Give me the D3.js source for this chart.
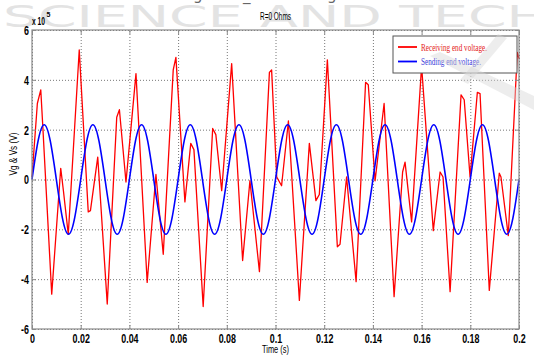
<!DOCTYPE html>
<html>
<head>
<meta charset="utf-8">
<script src="https://cdn.jsdelivr.net/npm/d3@7"></script>
<style>
  body { margin: 0; background: #fff; }
  svg { display: block; }
</style>
</head>
<body>
<script>
// axis ticks
const xTicks = [0, 0.02, 0.04, 0.06, 0.08, 0.1, 0.12, 0.14, 0.16, 0.18, 0.2];
const xTickLabels = ['0', '0.02', '0.04', '0.06', '0.08', '0.1', '0.12', '0.14', '0.16', '0.18', '0.2'];
const yTicks = [-6, -4, -2, 0, 2, 4, 6];
const yTickLabels = ['-6', '-4', '-2', '0', '2', '4', '6'];

// receiving end voltage (x 10^5 V)
const recvTime = [
  0, 0.0022, 0.0036, 0.0044, 0.0081, 0.0118, 0.0129, 0.0149, 0.0194, 0.0231,
  0.0240, 0.0270, 0.0309, 0.0348, 0.0359, 0.0386, 0.0427, 0.0473, 0.0509, 0.0539,
  0.0580, 0.0591, 0.0628, 0.0652, 0.0665, 0.0703, 0.0742, 0.0755, 0.0779, 0.0820,
  0.0865, 0.0895, 0.0934, 0.0975, 0.0984, 0.1005, 0.1025, 0.1053, 0.1098, 0.1139,
  0.1166, 0.1180, 0.1213, 0.1254, 0.1265, 0.1292, 0.1331, 0.1370, 0.1381, 0.1409,
  0.1446, 0.1487, 0.1522, 0.1532, 0.1559, 0.1600, 0.1648, 0.1676, 0.1688, 0.1717,
  0.1762, 0.1775, 0.1799, 0.1829, 0.1840, 0.1878, 0.1919, 0.1926, 0.1956, 0.1993, 0.2000
];
const recvVolt = [
  0.1, 3.05, 3.6, 2.2, -4.6, 0.45, -0.45, -2.2, 5.2, -1.3,
  -1.25, 0.9, -5.0, 2.5, 2.8, -0.1, 4.25, -4.13, 0.2, -3.0,
  4.4, 4.9, -0.9, 1.45, 1.2, -5.1, 2.05, 1.8, -0.45, 4.65,
  -3.25, -0.05, -3.7, 4.3, 4.4, 0.1, -0.25, 2.35, -4.85, 1.45,
  -0.85, -0.6, 4.8, -2.7, -2.6, 0.1, -4.1, 3.9, 3.8, -0.05,
  3.05, -4.7, 0.3, 0.7, -1.7, 4.55, -2.05, 0.3, 0.1, -4.5,
  3.4, 3.2, 0.1, 3.5, 3.45, -4.45, 0.25, 0.1, -2.25, 5.1, 4.85
];

// sending end voltage (x 10^5 V), sampled every 2.5 ms
const sendStep = 0.0025;
const sendVolt = [
  0, 1.55, 2.2, 1.55, 0, -1.55, -2.2, -1.55,
  0, 1.55, 2.2, 1.55, 0, -1.55, -2.2, -1.55,
  0, 1.55, 2.2, 1.55, 0, -1.55, -2.2, -1.55,
  0, 1.55, 2.2, 1.55, 0, -1.55, -2.2, -1.55,
  0, 1.55, 2.2, 1.55, 0, -1.55, -2.2, -1.55,
  0, 1.55, 2.2, 1.55, 0, -1.55, -2.2, -1.55,
  0, 1.55, 2.2, 1.55, 0, -1.55, -2.2, -1.55,
  0, 1.55, 2.2, 1.55, 0, -1.55, -2.2, -1.55,
  0, 1.55, 2.2, 1.55, 0, -1.55, -2.2, -1.55,
  0, 1.55, 2.2, 1.55, 0, -1.55, -2.2, -1.55,
  0
];

const legendNames = ['Receiving end voltage.', 'Sending end voltage.'];
const legendColors = ['#ff0000', '#0000ff'];

const W = 534, H = 358;
const pLeft = 32, pRight = 519, pTop = 30, pBottom = 329;
const narrow = "'Liberation Sans Narrow', 'Liberation Sans', Arial, sans-serif";

const svg = d3.select('body').append('svg')
  .attr('width', W)
  .attr('height', H);

// watermark behind everything
svg.append('text')
  .attr('x', 3)
  .attr('y', 27)
  .attr('textLength', 545)
  .attr('lengthAdjust', 'spacingAndGlyphs')
  .style('font-family', "'DejaVu Sans', sans-serif")
  .style('font-size', '30px')
  .style('fill', '#e3e3e3')
  .text('SCIENCE AND TECH');

// cut off line of text at the very top
[['g', 193], ['_', 243], ['g', 327]].forEach(([c, xx]) => {
  svg.append('text')
    .attr('x', xx).attr('y', 0)
    .style('font-family', "'DejaVu Sans', sans-serif")
    .style('font-size', '15px')
    .style('fill', '#666')
    .text(c);
});

const x = d3.scaleLinear().domain([0, 0.2]).range([pLeft, pRight]);
const y = d3.scaleLinear().domain([-6, 6]).range([pBottom, pTop]);

// grid
svg.append('g')
  .attr('transform', `translate(0,${pBottom})`)
  .call(d3.axisBottom(x).tickValues(xTicks).tickSize(-(pBottom - pTop)).tickFormat(''))
  .call(g => g.select('.domain').remove())
  .selectAll('line')
  .attr('stroke', '#777')
  .attr('stroke-dasharray', '1,2');

svg.append('g')
  .attr('transform', `translate(${pLeft},0)`)
  .call(d3.axisLeft(y).tickValues(yTicks).tickSize(-(pRight - pLeft)).tickFormat(''))
  .call(g => g.select('.domain').remove())
  .selectAll('line')
  .attr('stroke', '#777')
  .attr('stroke-dasharray', '1,2');

// lines
const recvLine = d3.line()
  .x((d, i) => x(recvTime[i]))
  .y(d => y(d));

const sendLine = d3.line()
  .curve(d3.curveNatural)
  .x((d, i) => x(i * sendStep))
  .y(d => y(d));

svg.append('path')
  .datum(recvVolt)
  .attr('d', recvLine)
  .attr('fill', 'none')
  .attr('stroke', legendColors[0])
  .attr('stroke-width', 1.3)
  .attr('stroke-linejoin', 'round');

svg.append('path')
  .datum(sendVolt)
  .attr('d', sendLine)
  .attr('fill', 'none')
  .attr('stroke', legendColors[1])
  .attr('stroke-width', 1.6);

// frame + inner ticks
svg.append('rect')
  .attr('x', pLeft).attr('y', pTop)
  .attr('width', pRight - pLeft).attr('height', pBottom - pTop)
  .attr('fill', 'none')
  .attr('stroke', '#8a8a8a')
  .attr('stroke-width', 1.2);

const tickAxes = [
  [d3.axisBottom(x).tickValues(xTicks), `translate(0,${pBottom})`],
  [d3.axisTop(x).tickValues(xTicks), `translate(0,${pTop})`],
  [d3.axisLeft(y).tickValues(yTicks), `translate(${pLeft},0)`],
  [d3.axisRight(y).tickValues(yTicks), `translate(${pRight},0)`]
];
tickAxes.forEach(([ax, tr]) => {
  svg.append('g')
    .attr('transform', tr)
    .call(ax.tickSize(-4).tickFormat(''))
    .call(g => g.select('.domain').remove())
    .selectAll('line').attr('stroke', '#8a8a8a');
});

// tick labels
const xLab = svg.append('g')
  .attr('transform', `translate(0,${pBottom})`)
  .call(d3.axisBottom(x).tickValues(xTicks).tickSize(0).tickPadding(4)
    .tickFormat((d, i) => xTickLabels[i]));
xLab.select('.domain').remove();
xLab.selectAll('text')
  .style('font-family', "'Liberation Sans', Arial, sans-serif")
  .style('font-weight', 'bold')
  .style('font-size', '13.5px')
  .attr('fill', '#000')
  .attr('transform', 'scale(0.66,1)');

const yLab = svg.append('g')
  .attr('transform', `translate(${pLeft},0)`)
  .call(d3.axisLeft(y).tickValues(yTicks).tickSize(0).tickPadding(3)
    .tickFormat((d, i) => yTickLabels[i]));
yLab.select('.domain').remove();
yLab.selectAll('text')
  .style('font-family', "'Liberation Sans', Arial, sans-serif")
  .style('font-weight', 'bold')
  .style('font-size', '13.5px')
  .attr('fill', '#000')
  .attr('x', -3 / 0.66)
  .attr('transform', 'scale(0.66,1)');

// exponent
svg.append('text')
  .attr('x', 32).attr('y', 25)
  .attr('textLength', 13).attr('lengthAdjust', 'spacingAndGlyphs')
  .style('font-family', "'Liberation Sans', Arial, sans-serif")
  .style('font-weight', 'bold')
  .style('font-size', '10.5px')
  .text('x 10');
svg.append('text')
  .attr('x', 46.5).attr('y', 17)
  .style('font-family', "'Liberation Sans', Arial, sans-serif")
  .style('font-weight', 'bold')
  .style('font-size', '7px')
  .text('5');

// title and axis labels
svg.append('text')
  .attr('x', (pLeft + pRight) / 2).attr('y', 20)
  .attr('text-anchor', 'middle')
  .attr('textLength', 31).attr('lengthAdjust', 'spacingAndGlyphs')
  .style('font-family', narrow)
  .style('font-size', '10px')
  .text('R=0 Ohms');

svg.append('text')
  .attr('x', (pLeft + pRight) / 2).attr('y', 353)
  .attr('text-anchor', 'middle')
  .attr('textLength', 27).attr('lengthAdjust', 'spacingAndGlyphs')
  .style('font-family', narrow)
  .style('font-size', '10px')
  .text('Time (s)');

svg.append('text')
  .attr('transform', 'translate(17,154) rotate(-90)')
  .attr('text-anchor', 'middle')
  .attr('textLength', 43).attr('lengthAdjust', 'spacingAndGlyphs')
  .style('font-family', narrow)
  .style('font-size', '10px')
  .text('Vg & Vs (V)');

// legend
const lg = svg.append('g').attr('transform', 'translate(393,36)');
lg.append('rect')
  .attr('width', 124).attr('height', 37)
  .attr('fill', '#fff')
  .attr('stroke', '#555')
  .attr('stroke-width', 1);
const lgLen = [66, 60];
legendNames.forEach((name, i) => {
  const row = lg.append('g').attr('transform', `translate(0,${11 + i * 14.5})`);
  row.append('line')
    .attr('x1', 5).attr('x2', 24)
    .attr('stroke', legendColors[i])
    .attr('stroke-width', 1.8);
  row.append('text')
    .attr('x', 28).attr('y', 3.5)
    .attr('textLength', lgLen[i]).attr('lengthAdjust', 'spacingAndGlyphs')
    .style('font-family', "'Liberation Serif', 'DejaVu Serif', serif")
    .style('font-size', '11px')
    .attr('fill', i === 0 ? '#e42222' : '#3a3ad8')
    .text(name);
});

// faint logo strokes over the top right
svg.append('path')
  .attr('d', 'M430,56 L440,52 L534,96 L534,110 Z')
  .attr('fill', '#d8d8d8')
  .attr('opacity', 0.45);
svg.append('path')
  .attr('d', 'M498,34 L507,38 L468,84 L460,80 Z')
  .attr('fill', '#d8d8d8')
  .attr('opacity', 0.45);
</script>
</body>
</html>
